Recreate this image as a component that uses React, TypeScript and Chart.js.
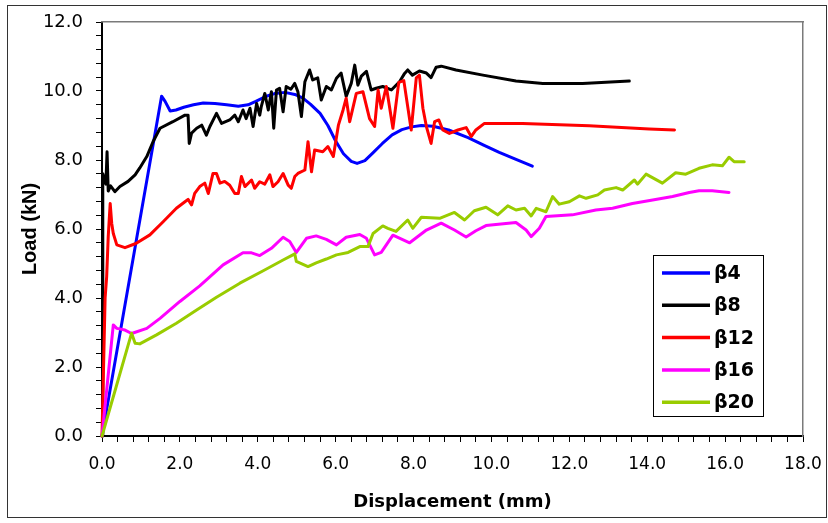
import React, { useEffect, useRef } from "react";
import { Chart, registerables } from "chart.js";

Chart.register(...registerables);

const seriesNames = ["β4", "β8", "β12", "β16", "β20"];
const seriesColors = ["#0000FF", "#000000", "#FF0000", "#FF00FF", "#99CC00"];

const xMax = 18;
const yMax = 12;
const majorStep = 2;
const minorStep = 0.4;

const b4X = [0, 1.53, 1.62, 1.75, 1.9, 2.1, 2.35, 2.6, 2.9, 3.2, 3.5, 3.75, 3.95, 4.2, 4.45, 4.7, 4.95, 5.15, 5.35, 5.6, 5.8, 6.0, 6.2, 6.4, 6.55, 6.75, 6.95, 7.2, 7.45, 7.7, 7.95, 8.2, 8.5, 8.9, 9.4, 9.8, 10.2, 10.6, 11.05];
const b4Y = [0, 9.85, 9.7, 9.42, 9.45, 9.53, 9.6, 9.65, 9.64, 9.6, 9.56, 9.6, 9.7, 9.84, 9.93, 9.96, 9.9, 9.8, 9.62, 9.35, 9.0, 8.55, 8.18, 7.96, 7.9, 7.98, 8.2, 8.48, 8.73, 8.88, 8.96, 9.0, 8.98, 8.87, 8.65, 8.43, 8.22, 8.03, 7.82];

const b8X = [0, 0.02, 0.06, 0.1, 0.13, 0.16, 0.22, 0.33, 0.46, 0.67, 0.85, 0.97, 1.15, 1.31, 1.49, 1.82, 2.13, 2.21, 2.24, 2.3, 2.43, 2.56, 2.68, 2.77, 2.94, 3.07, 3.28, 3.41, 3.5, 3.62, 3.7, 3.8, 3.88, 3.97, 4.05, 4.09, 4.18, 4.27, 4.35, 4.41, 4.48, 4.56, 4.65, 4.73, 4.85, 4.95, 5.03, 5.12, 5.21, 5.33, 5.41, 5.54, 5.63, 5.76, 5.89, 6.02, 6.14, 6.27, 6.4, 6.49, 6.57, 6.66, 6.79, 6.91, 7.04, 7.21, 7.43, 7.64, 7.77, 7.85, 7.97, 8.15, 8.33, 8.45, 8.58, 8.71, 9.09, 9.78, 10.63, 11.32, 12.34, 13.54];
const b8Y = [0, 7.6, 7.45, 7.3, 8.24, 7.1, 7.25, 7.08, 7.23, 7.38, 7.57, 7.77, 8.1, 8.53, 8.92, 9.11, 9.3, 9.3, 8.48, 8.78, 8.92, 9.01, 8.72, 8.97, 9.35, 9.06, 9.16, 9.3, 9.11, 9.45, 9.2, 9.5, 8.97, 9.64, 9.3, 9.55, 9.93, 9.45, 9.98, 8.92, 10.03, 10.08, 9.4, 10.13, 10.05, 10.22, 9.98, 9.26, 10.27, 10.61, 10.32, 10.38, 9.74, 10.13, 10.03, 10.37, 10.52, 9.84, 10.22, 10.75, 10.17, 10.43, 10.57, 10.03, 10.08, 10.13, 10.03, 10.27, 10.51, 10.61, 10.46, 10.58, 10.52, 10.39, 10.69, 10.72, 10.61, 10.46, 10.29, 10.22, 10.22, 10.29];

const b12X = [0, 0.08, 0.12, 0.16, 0.21, 0.25, 0.29, 0.38, 0.59, 0.87, 1.23, 1.57, 1.91, 2.13, 2.21, 2.3, 2.38, 2.51, 2.64, 2.73, 2.85, 2.94, 3.03, 3.15, 3.28, 3.41, 3.5, 3.58, 3.67, 3.84, 3.92, 4.05, 4.18, 4.31, 4.39, 4.52, 4.65, 4.78, 4.86, 4.95, 5.03, 5.21, 5.29, 5.38, 5.46, 5.67, 5.8, 5.94, 6.07, 6.19, 6.27, 6.36, 6.53, 6.7, 6.87, 7.0, 7.09, 7.17, 7.3, 7.47, 7.62, 7.75, 7.94, 8.07, 8.15, 8.24, 8.33, 8.45, 8.54, 8.65, 8.75, 8.92, 9.14, 9.35, 9.48, 9.6, 9.82, 10.8, 12.51, 14.05, 14.7];
const b12Y = [0, 4.0, 4.62, 5.78, 6.74, 6.16, 5.87, 5.54, 5.46, 5.58, 5.83, 6.21, 6.6, 6.79, 6.86, 6.7, 7.03, 7.23, 7.33, 7.03, 7.61, 7.61, 7.33, 7.38, 7.27, 7.03, 7.03, 7.52, 7.23, 7.42, 7.18, 7.37, 7.3, 7.57, 7.23, 7.37, 7.61, 7.27, 7.18, 7.52, 7.61, 7.71, 8.53, 7.66, 8.29, 8.24, 8.39, 8.1, 9.01, 9.45, 9.79, 9.11, 9.93, 9.98, 9.2, 8.97, 10.03, 9.5, 10.13, 8.92, 10.25, 10.3, 8.87, 10.38, 10.46, 9.5, 8.97, 8.48, 9.11, 9.16, 8.87, 8.77, 8.87, 8.94, 8.68, 8.87, 9.06, 9.06, 8.99, 8.9, 8.87];

const b16X = [0, 0.29, 0.38, 0.59, 0.76, 1.15, 1.49, 2.0, 2.51, 3.11, 3.62, 3.84, 4.05, 4.35, 4.65, 4.82, 4.99, 5.25, 5.5, 5.76, 6.02, 6.27, 6.62, 6.79, 7.0, 7.17, 7.47, 7.9, 8.33, 8.71, 9.05, 9.35, 9.6, 9.86, 10.63, 10.89, 11.02, 11.23, 11.4, 12.08, 12.68, 13.11, 13.62, 14.14, 14.65, 15.08, 15.33, 15.67, 16.1];
const b16Y = [0, 3.22, 3.12, 3.07, 2.97, 3.12, 3.41, 3.9, 4.35, 4.96, 5.31, 5.31, 5.23, 5.44, 5.76, 5.64, 5.32, 5.73, 5.8, 5.7, 5.54, 5.76, 5.84, 5.73, 5.25, 5.32, 5.82, 5.6, 5.97, 6.17, 5.97, 5.77, 5.95, 6.1, 6.19, 5.97, 5.78, 6.02, 6.36, 6.41, 6.55, 6.6, 6.74, 6.84, 6.94, 7.06, 7.11, 7.11, 7.06];

const b20X = [0, 0.76, 0.85, 0.97, 1.4, 1.91, 2.43, 2.94, 3.54, 4.14, 4.65, 4.95, 4.99, 5.29, 5.5, 5.76, 6.02, 6.32, 6.62, 6.83, 6.96, 7.21, 7.34, 7.55, 7.85, 7.98, 8.2, 8.67, 9.05, 9.31, 9.56, 9.86, 10.16, 10.42, 10.63, 10.85, 11.02, 11.15, 11.4, 11.57, 11.74, 12.0, 12.26, 12.43, 12.73, 12.9, 13.2, 13.37, 13.67, 13.75, 13.97, 14.39, 14.73, 14.99, 15.33, 15.67, 15.93, 16.1, 16.23, 16.49];
const b20Y = [0, 2.98, 2.69, 2.67, 2.93, 3.27, 3.65, 4.02, 4.43, 4.79, 5.1, 5.28, 5.06, 4.91, 5.02, 5.13, 5.25, 5.32, 5.49, 5.49, 5.87, 6.09, 6.02, 5.93, 6.26, 6.02, 6.34, 6.31, 6.48, 6.26, 6.53, 6.63, 6.41, 6.67, 6.55, 6.6, 6.38, 6.6, 6.5, 6.94, 6.72, 6.79, 6.96, 6.89, 6.99, 7.13, 7.2, 7.13, 7.42, 7.3, 7.59, 7.33, 7.63, 7.59, 7.76, 7.86, 7.83, 8.08, 7.95, 7.95];

const seriesX = [b4X, b8X, b12X, b16X, b20X];
const seriesY = [b4Y, b8Y, b12Y, b16Y, b20Y];

const isMajor = (v: number) => Math.abs(v / majorStep - Math.round(v / majorStep)) < 1e-6;
const tickList = (max: number) => {
  const out: { value: number }[] = [];
  const n = Math.round(max / minorStep);
  for (let k = 0; k <= n; k++) out.push({ value: Math.round(k * minorStep * 1000) / 1000 });
  return out;
};

const decorations = {
  id: "decorations",
  beforeDraw(chart: any) {
    const { ctx, width, height } = chart;
    ctx.save();
    ctx.fillStyle = "#ffffff";
    ctx.fillRect(0, 0, width, height);
    ctx.strokeStyle = "#333333";
    ctx.lineWidth = 1;
    ctx.strokeRect(7.5, 5.5, width - 9, height - 11);
    ctx.restore();
  },
  afterDatasetsDraw(chart: any) {
    const ctx = chart.ctx;
    const ca = chart.chartArea;
    const bx = Math.round(ca.right - 150);
    const by = Math.round(ca.bottom - 181);
    const bw = 110;
    const bh = 161;
    ctx.save();
    ctx.fillStyle = "#ffffff";
    ctx.fillRect(bx, by, bw, bh);
    ctx.strokeStyle = "#000000";
    ctx.lineWidth = 1;
    ctx.strokeRect(bx + 0.5, by + 0.5, bw, bh);
    chart.data.datasets.forEach((ds: any, i: number) => {
      const cy = by + 18 + i * 32.3;
      ctx.strokeStyle = ds.borderColor;
      ctx.lineWidth = 3.5;
      ctx.beginPath();
      ctx.moveTo(bx + 9, cy);
      ctx.lineTo(bx + 57, cy);
      ctx.stroke();
      ctx.fillStyle = "#000000";
      ctx.font = "bold 19px 'DejaVu Sans'";
      ctx.textBaseline = "middle";
      ctx.textAlign = "left";
      ctx.fillText(ds.label, bx + 61, cy + 1);
    });
    ctx.restore();
  },
};

export default function App() {
  const canvasRef = useRef<HTMLCanvasElement | null>(null);

  useEffect(() => {
    if (!canvasRef.current) return;
    const datasets = seriesNames.map((name, i) => ({
      label: name,
      data: seriesX[i].map((x, j) => ({ x, y: seriesY[i][j] })),
      borderColor: seriesColors[i],
      backgroundColor: seriesColors[i],
      borderWidth: 3,
      pointRadius: 0,
      pointHoverRadius: 0,
      fill: false,
      tension: 0,
      borderJoinStyle: "round",
      borderCapStyle: "round",
      order: seriesNames.length - i,
      clip: false,
      xAxisID: "x",
      yAxisID: "y",
    }));

    const frameAxis = (position: string, max: number) => ({
      type: "linear",
      position,
      min: 0,
      max,
      ticks: { display: false },
      grid: { display: false, drawTicks: false },
      border: { display: true, color: "#7a7a7a", width: 1.5 },
      afterFit: (s: any) => {
        if (position === "top") s.height = 0;
        else s.width = 0;
        s.paddingLeft = 0;
        s.paddingRight = 0;
        s.paddingTop = 0;
        s.paddingBottom = 0;
      },
    });

    const chart = new Chart(canvasRef.current, {
      type: "line",
      data: { datasets } as any,
      plugins: [decorations],
      options: {
        responsive: false,
        animation: false,
        devicePixelRatio: 1,
        layout: { padding: { left: 0, right: 25, top: 22, bottom: 0 } },
        plugins: {
          legend: { display: false },
          tooltip: { enabled: false },
        },
        scales: {
          x: {
            type: "linear",
            position: "bottom",
            min: 0,
            max: xMax,
            afterBuildTicks: (s: any) => {
              s.ticks = tickList(xMax);
            },
            afterFit: (s: any) => {
              s.height = 87;
              s.paddingLeft = 0;
              s.paddingRight = 0;
            },
            ticks: {
              autoSkip: false,
              maxRotation: 0,
              minRotation: 0,
              padding: 12,
              color: "#000000",
              font: { family: "'DejaVu Sans'", size: 17 },
              callback: (v: any) => (isMajor(Number(v)) ? Number(v).toFixed(1) : ""),
            },
            grid: {
              display: true,
              drawOnChartArea: false,
              drawTicks: true,
              tickLength: 6,
              color: "#000000",
              tickColor: "#000000",
            },
            border: { display: true, color: "#000000", width: 2 },
            title: {
              display: true,
              text: "Displacement (mm)",
              color: "#000000",
              font: { family: "'DejaVu Sans'", size: 18, weight: "bold" },
              padding: { top: 0, bottom: 10 },
            },
          },
          y: {
            type: "linear",
            position: "left",
            min: 0,
            max: yMax,
            afterBuildTicks: (s: any) => {
              s.ticks = tickList(yMax);
            },
            afterFit: (s: any) => {
              s.width = 102;
              s.paddingTop = 0;
              s.paddingBottom = 0;
            },
            ticks: {
              autoSkip: false,
              padding: 13,
              color: "#000000",
              font: { family: "'DejaVu Sans'", size: 18 },
              callback: (v: any) => (isMajor(Number(v)) ? Number(v).toFixed(1) : ""),
            },
            grid: {
              display: true,
              drawOnChartArea: false,
              drawTicks: true,
              tickLength: 6,
              color: "#000000",
              tickColor: "#000000",
            },
            border: { display: true, color: "#000000", width: 2 },
            title: {
              display: true,
              text: "Load (kN)",
              color: "#000000",
              font: { family: "'Liberation Sans'", size: 20, weight: "bold" },
              padding: { top: 18, bottom: 0 },
            },
          },
          xTop: frameAxis("top", xMax),
          yRight: frameAxis("right", yMax),
        },
      } as any,
    });
    return () => chart.destroy();
  }, []);

  return (
    <div style={{ position: "fixed", left: 0, top: 0, width: 828, height: 523 }}>
      <canvas ref={canvasRef} width={828} height={523} style={{ display: "block", width: 828, height: 523 }} />
    </div>
  );
}
